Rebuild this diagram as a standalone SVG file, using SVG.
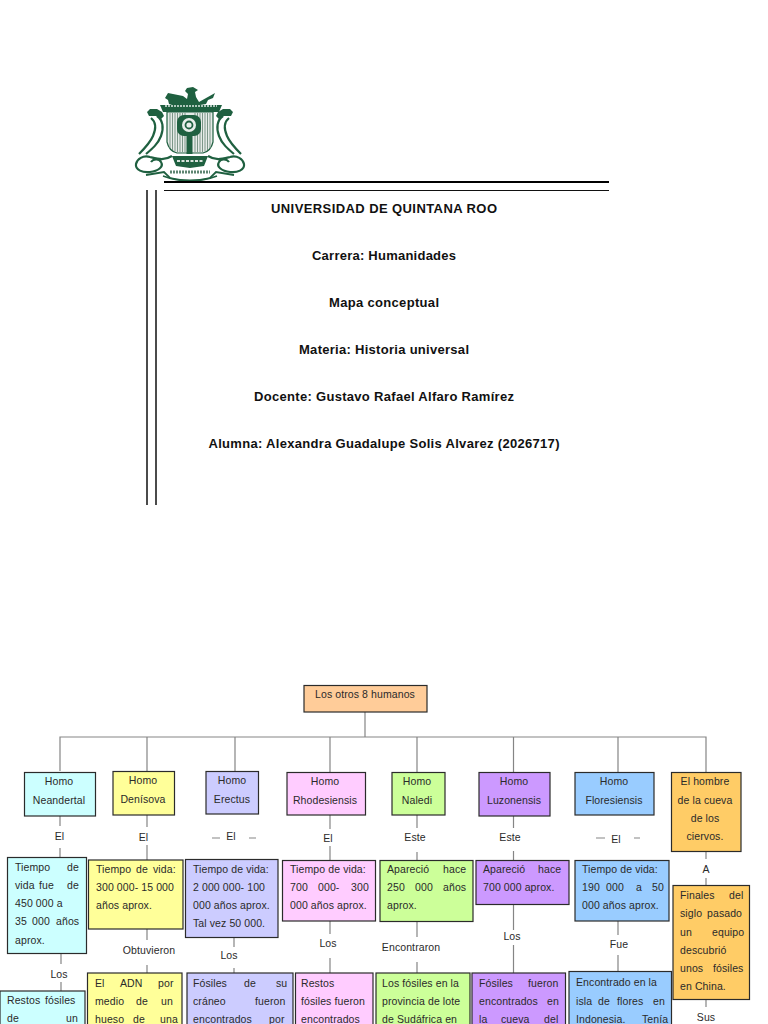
<svg xmlns="http://www.w3.org/2000/svg" width="768" height="1024" viewBox="0 0 768 1024">
<style>
text{font-family:"Liberation Sans",Arial,sans-serif;fill:#2a2a2a}
.h{font-size:13px;font-weight:bold;text-anchor:middle;fill:#111}
.t{font-size:10.5px;letter-spacing:.1px}
.l{font-size:10.5px;letter-spacing:.1px;text-anchor:middle}
.b{stroke:#2b2b2b;stroke-width:1.2}
#connectors path{stroke:#858585;stroke-width:1.2;fill:none}
.g{fill:none;stroke:#1f6040;stroke-width:2.2}
.gf{fill:#1f6040}
</style>
<rect width="768" height="1024" fill="#fff"/>
<g id="logo">
<path class="gf" d="M168 93l15 3 4 3 1-5-3-3 2-3 6-1 5 3-3 2 1 5 3 5 16-9-2 5-5 2-2 4-6 1-2 4h-22l-1-3-6-2-1-4-3-2z"/>
<path class="gf" d="M160 105h62l-3 7h-56z"/>
<path d="M165 106h52" stroke="#dfe8e3" stroke-width="1.500" stroke-dasharray="2 1"/>
<path d="M167 112h46v30q-2 9-10 11h-26q-8-2-10-11z" fill="#e6ebe8" stroke="#1f6040" stroke-width="1.200"/>
<path d="M170 113v35M172.500 113v37M175 113v38M177.500 113v39M180 113v39M182.500 113v39M185 113v39M195 113v39M197.500 113v39M200 113v39M202.500 113v39M205 113v38M207.500 113v37M210 113v35" stroke="#7c9788" stroke-width="1" fill="none"/>
<rect x="177" y="115" width="24" height="21" rx="7" class="gf"/>
<circle cx="189" cy="125" r="7" fill="#e8eeea"/>
<circle cx="189" cy="125" r="3.500" fill="none" stroke="#1f6040" stroke-width="1.800"/>
<rect x="186.500" y="135" width="6" height="19" class="gf"/>
<path class="gf" d="M147 112l3-3 7 0 5 3 2 4-3 3-5-3-7 0z"/>
<path class="gf" d="M233 112l-3-3-7 0-5 3-2 4 3 3 5-3 7 0z"/>
<path class="g" d="M157 116c6 4 7 12 4 20-3 8-9 13-15 18"/>
<path class="g" d="M151 118c5 4 5 11 2 18-3 7-8 12-14 18"/>
<path class="g" d="M223 116c-6 4-7 12-4 20 3 8 9 13 15 18"/>
<path class="g" d="M229 118c-5 4-5 11-2 18 3 7 8 12 14 18"/>
<path class="g" d="M172 156c-8 5-14 3-22 1-7-2-13 2-14 7-1 6 7 9 14 8 8-1 14-5 11-10-2-4-8-3-10 0"/>
<path class="g" d="M208 156c8 5 14 3 22 1 7-2 13 2 14 7 1 6-7 9-14 8-8-1-14-5-11-10 2-4 8-3 10 0"/>
<path class="gf" d="M172 156h36l-4 10-14 2-14-2z"/>
<path d="M177 161h26" stroke="#d9e3dd" stroke-width="2" stroke-dasharray="3 1.500"/>
<path d="M146 175c6-1 12-2 18-3l6 6c12 3 28 3 40 0l6-6c6 1 12 2 18 3" fill="none" stroke="#1f6040" stroke-width="1.800"/>
<path d="M163 176c8 3 17 5 27 5s19-2 27-5" fill="none" stroke="#1f6040" stroke-width="1.500"/>
<path d="M170 172h40" stroke="#5d8571" stroke-width="3" stroke-dasharray="2 1"/>
</g>
<g id="rules">
<path d="M164 182H609" stroke="#000" stroke-width="2"/>
<path d="M164 190.500H609" stroke="#111" stroke-width="1"/>
<path d="M147 190V505M156 190V505" stroke="#111" stroke-width="1.500"/>
</g>
<g id="title">
<text class="h" x="384" y="213" textLength="226">UNIVERSIDAD DE QUINTANA ROO</text>
<text class="h" x="384" y="260" textLength="144">Carrera: Humanidades</text>
<text class="h" x="384" y="307" textLength="110">Mapa conceptual</text>
<text class="h" x="384" y="354" textLength="170">Materia: Historia universal</text>
<text class="h" x="384" y="401" textLength="260">Docente: Gustavo Rafael Alfaro Ramírez</text>
<text class="h" x="384" y="448" textLength="351">Alumna: Alexandra Guadalupe Solis Alvarez (2026717)</text>
</g>
<g id="connectors">
<path d="M365 712V737M60 771V737H706V772M147 737V771M235 737V771M330 737V772M417 737V772M513.500 737V772M618 737V772"/>
<path d="M60 816V826M60 848V857M147 815V827M147 845V860M212 838H220M249 838H256M330 815V829M330 846V860M417 815V828M417 852V860M513.500 816V828M513.500 851V860M596 838H605M634 838H640M706 851V859M706 878V885"/>
<path d="M61 953V964M61 982V991M147 929V940M147 965V973M234 937V947M234 968V973M330 921V934M330 958V973M417 921V937M417 962V973M513.500 904V930M513.500 945V973M618 921V935M618 955V971M706 1000V1007"/>
</g>
<g id="labels">
<text class="l" x="59.500" y="840">El</text>
<text class="l" x="143.500" y="841">El</text>
<text class="l" x="231" y="840">El</text>
<text class="l" x="328" y="842">El</text>
<text class="l" x="415" y="841">Este</text>
<text class="l" x="510" y="841">Este</text>
<text class="l" x="616" y="843">El</text>
<text class="l" x="706" y="873">A</text>
<text class="l" x="59" y="978">Los</text>
<text class="l" x="149" y="954">Obtuvieron</text>
<text class="l" x="229" y="959">Los</text>
<text class="l" x="328" y="947">Los</text>
<text class="l" x="411" y="951">Encontraron</text>
<text class="l" x="512" y="940">Los</text>
<text class="l" x="619" y="948">Fue</text>
<text class="l" x="706" y="1021">Sus</text>
</g>
<g id="n-root"><rect class="b" x="304" y="685.500" width="123" height="26.500" fill="#FFCC99"/><text class="t" x="315" y="698">Los otros 8 humanos</text></g>
<g id="n-neandertal"><rect class="b" x="24.500" y="772.500" width="71" height="43.500" fill="#CCFFFF"/><text class="l" x="59" y="785">Homo</text><text class="l" x="59" y="803.500">Neandertal</text></g>
<g id="n-denisova"><rect class="b" x="113" y="771.500" width="61.500" height="43.500" fill="#FFFF99"/><text class="l" x="143" y="784">Homo</text><text class="l" x="143" y="802.500">Denísova</text></g>
<g id="n-erectus"><rect class="b" x="206" y="771.500" width="52.500" height="42.500" fill="#CCCCFF"/><text class="l" x="232" y="784">Homo</text><text class="l" x="232" y="802.500">Erectus</text></g>
<g id="n-rhodesiensis"><rect class="b" x="287" y="772.500" width="78.500" height="42.500" fill="#FFCCFF"/><text class="l" x="325" y="785">Homo</text><text class="l" x="325" y="803.500">Rhodesiensis</text></g>
<g id="n-naledi"><rect class="b" x="392" y="772.500" width="53" height="42.500" fill="#CCFF99"/><text class="l" x="417" y="785">Homo</text><text class="l" x="417" y="803.500">Naledi</text></g>
<g id="n-luzonensis"><rect class="b" x="479" y="772.500" width="71" height="43.500" fill="#CC99FF"/><text class="l" x="514" y="785">Homo</text><text class="l" x="514" y="803.500">Luzonensis</text></g>
<g id="n-floresiensis"><rect class="b" x="575" y="772.500" width="79" height="42.500" fill="#99CCFF"/><text class="l" x="614" y="785">Homo</text><text class="l" x="614" y="803.500">Floresiensis</text></g>
<g id="n-ciervos"><rect class="b" x="671.500" y="772.500" width="69.500" height="79" fill="#FFCC66"/><text class="l" x="705" y="785">El hombre</text><text class="l" x="705" y="803.500">de la cueva</text><text class="l" x="705" y="821.500">de los</text><text class="l" x="705" y="840">ciervos.</text></g>
<g id="n-vida1"><rect class="b" x="7.500" y="857.500" width="79" height="96" fill="#CCFFFF"/><text class="t" y="870.500"><tspan x="15">Tiempo</tspan><tspan x="67">de</tspan></text><text class="t" y="888.800"><tspan x="15">vida</tspan><tspan x="39">fue</tspan><tspan x="67">de</tspan></text><text class="t" x="15" y="907.100">450 000 a</text><text class="t" y="925.400"><tspan x="15">35</tspan><tspan x="32">000</tspan><tspan x="56">años</tspan></text><text class="t" x="15" y="943.700">aprox.</text></g>
<g id="n-vida2"><rect class="b" x="88.500" y="860" width="94.500" height="69" fill="#FFFF99"/><text class="t" y="872.500"><tspan x="96">Tiempo</tspan><tspan x="136">de</tspan><tspan x="153">vida:</tspan></text><text class="t" x="96" y="890.800">300 000- 15 000</text><text class="t" x="96" y="909">años aprox.</text></g>
<g id="n-vida3"><rect class="b" x="185.500" y="859.500" width="92.500" height="78" fill="#CCCCFF"/><text class="t" x="193" y="872.500">Tiempo de vida:</text><text class="t" x="193" y="891">2 000 000- 100</text><text class="t" x="193" y="909">000 años aprox.</text><text class="t" x="193" y="927">Tal vez 50 000.</text></g>
<g id="n-vida4"><rect class="b" x="282.500" y="860.500" width="93" height="60.500" fill="#FFCCFF"/><text class="t" x="290" y="873">Tiempo de vida:</text><text class="t" y="891"><tspan x="290">700</tspan><tspan x="318">000-</tspan><tspan x="351">300</tspan></text><text class="t" x="290" y="909">000 años aprox.</text></g>
<g id="n-vida5"><rect class="b" x="380" y="860.500" width="93" height="61" fill="#CCFF99"/><text class="t" y="873"><tspan x="387">Apareció</tspan><tspan x="443">hace</tspan></text><text class="t" y="891"><tspan x="387">250</tspan><tspan x="415">000</tspan><tspan x="443">años</tspan></text><text class="t" x="387" y="909">aprox.</text></g>
<g id="n-vida6"><rect class="b" x="476" y="860.500" width="93" height="44" fill="#CC99FF"/><text class="t" y="873"><tspan x="483">Apareció</tspan><tspan x="538">hace</tspan></text><text class="t" x="483" y="891">700 000 aprox.</text></g>
<g id="n-vida7"><rect class="b" x="575" y="860.500" width="94" height="60.500" fill="#99CCFF"/><text class="t" x="582" y="873">Tiempo de vida:</text><text class="t" y="891"><tspan x="582">190</tspan><tspan x="606">000</tspan><tspan x="636">a</tspan><tspan x="652">50</tspan></text><text class="t" x="582" y="909">000 años aprox.</text></g>
<g id="n-finales"><rect class="b" x="673" y="885.500" width="76.500" height="114" fill="#FFCC66"/><text class="t" y="899"><tspan x="680">Finales</tspan><tspan x="729">del</tspan></text><text class="t" y="917.300"><tspan x="680">siglo</tspan><tspan x="707">pasado</tspan></text><text class="t" y="935.600"><tspan x="680">un</tspan><tspan x="712">equipo</tspan></text><text class="t" x="680" y="954">descubrió</text><text class="t" y="972"><tspan x="680">unos</tspan><tspan x="713">fósiles</tspan></text><text class="t" x="680" y="990">en China.</text></g>
<g id="n-restos1"><rect class="b" x="0" y="991" width="85" height="40" fill="#CCFFFF"/><text class="t" y="1004"><tspan x="7">Restos</tspan><tspan x="45">fósiles</tspan></text><text class="t" y="1022"><tspan x="7">de</tspan><tspan x="66">un</tspan></text></g>
<g id="n-adn"><rect class="b" x="87.500" y="973" width="94.500" height="60" fill="#FFFF99"/><text class="t" y="986.500"><tspan x="95">El</tspan><tspan x="120">ADN</tspan><tspan x="158">por</tspan></text><text class="t" y="1005"><tspan x="95">medio</tspan><tspan x="136">de</tspan><tspan x="161">un</tspan></text><text class="t" y="1023"><tspan x="95">hueso</tspan><tspan x="133">de</tspan><tspan x="160">una</tspan></text></g>
<g id="n-fosiles1"><rect class="b" x="187" y="973" width="106" height="60" fill="#CCCCFF"/><text class="t" y="986.500"><tspan x="193">Fósiles</tspan><tspan x="244">de</tspan><tspan x="276">su</tspan></text><text class="t" y="1005"><tspan x="193">cráneo</tspan><tspan x="255">fueron</tspan></text><text class="t" y="1023"><tspan x="193">encontrados</tspan><tspan x="269">por</tspan></text></g>
<g id="n-restos2"><rect class="b" x="295.500" y="973" width="77.500" height="60" fill="#FFCCFF"/><text class="t" x="301" y="986.500">Restos</text><text class="t" x="301" y="1005">fósiles fueron</text><text class="t" x="301" y="1023">encontrados</text></g>
<g id="n-fosiles2"><rect class="b" x="376" y="973" width="94" height="60" fill="#CCFF99"/><text class="t" x="382" y="986.500">Los fósiles en la</text><text class="t" x="382" y="1005">provincia de lote</text><text class="t" x="382" y="1023">de Sudáfrica en</text></g>
<g id="n-fosiles3"><rect class="b" x="472" y="973" width="93.500" height="60" fill="#CC99FF"/><text class="t" y="986.500"><tspan x="479">Fósiles</tspan><tspan x="528">fueron</tspan></text><text class="t" y="1005"><tspan x="479">encontrados</tspan><tspan x="547">en</tspan></text><text class="t" y="1023"><tspan x="479">la</tspan><tspan x="501">cueva</tspan><tspan x="544">del</tspan></text></g>
<g id="n-encontrado"><rect class="b" x="569" y="971.500" width="102.500" height="60" fill="#99CCFF"/><text class="t" x="576" y="986">Encontrado en la</text><text class="t" y="1004.500"><tspan x="576">isla</tspan><tspan x="598">de</tspan><tspan x="617">flores</tspan><tspan x="653">en</tspan></text><text class="t" y="1022.500"><tspan x="576">Indonesia.</tspan><tspan x="642">Tenía</tspan></text></g>
</svg>
